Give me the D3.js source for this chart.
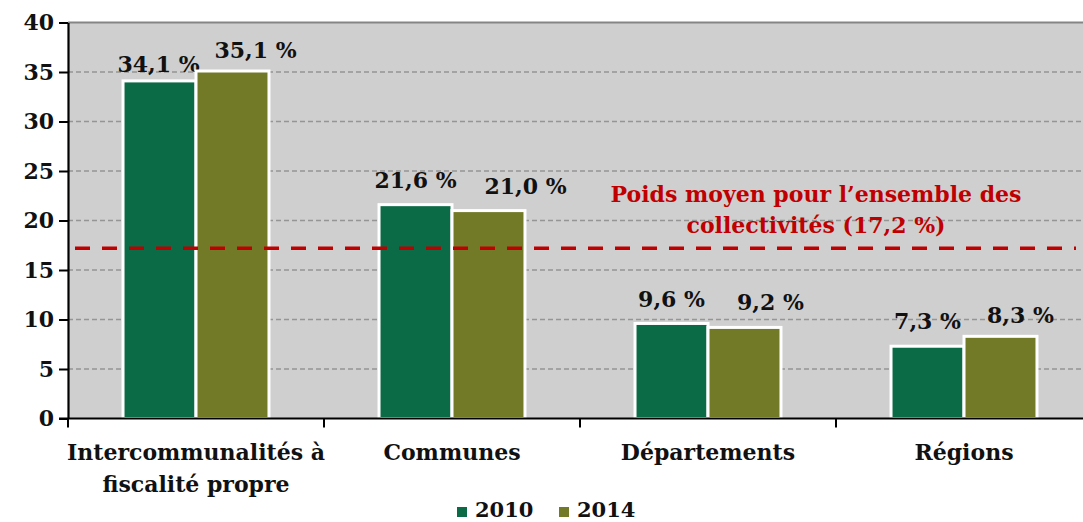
<!DOCTYPE html>
<html>
<head>
<meta charset="utf-8">
<script src="https://cdn.jsdelivr.net/npm/d3@7"></script>
<style>
  html, body { margin: 0; padding: 0; background: #fff; }
  svg { display: block; }
  text { font-family: "DejaVu Serif", "Liberation Serif", serif; font-weight: bold; }
</style>
</head>
<body>
<svg id="chart" width="1083" height="522"></svg>
<script>
// Poids des collectivités par catégorie (%)
const categories = [["Intercommunalités à", "fiscalité propre"], ["Communes"], ["Départements"], ["Régions"]];
const seriesNames = ["2010", "2014"];
const values2010 = [34.1, 21.6, 9.6, 7.3];
const values2014 = [35.1, 21.0, 9.2, 8.3];
const valueLabels2010 = ["34,1 %", "21,6 %", "9,6 %", "7,3 %"];
const valueLabels2014 = ["35,1 %", "21,0 %", "9,2 %", "8,3 %"];
const averageValue = 17.2;
const averageLabel = ["Poids moyen pour l’ensemble des", "collectivités (17,2 %)"];
const yTicks = [0, 5, 10, 15, 20, 25, 30, 35, 40];

// label nudges (px) so neighbouring value labels do not collide
const labelShift2010 = [[-1, 9], [0, 17], [0, 16], [0, 17]];
const labelShift2014 = [[23, 13], [37, 17], [26, 17], [20, 13]];

const colors = ["#0b6b47", "#737a27"];

const svg = d3.select("#chart");
const plotLeft = 68, plotRight = 1092, plotTop = 22.5, plotBottom = 418.5;

const x = d3.scaleBand().domain(d3.range(categories.length)).range([plotLeft, plotRight]).paddingInner(0).paddingOuter(0);
const xInner = d3.scaleBand().domain(seriesNames).range([0, x.bandwidth()]).paddingInner(0).paddingOuter(0.754);
const y = d3.scaleLinear().domain([0, 40]).range([plotBottom, plotTop]);

// plot background
svg.append("rect").attr("x", plotLeft).attr("y", plotTop).attr("width", 1083 - plotLeft).attr("height", plotBottom - plotTop).attr("fill", "#cfcfcf");

// gridlines
svg.append("g").selectAll("line").data(yTicks.filter(t => t > 0 && t < 40)).join("line")
  .attr("x1", plotLeft).attr("x2", 1083).attr("y1", d => y(d)).attr("y2", d => y(d))
  .attr("stroke", "#959595").attr("stroke-width", 1.6).attr("stroke-dasharray", "5,3");
svg.append("line").attr("x1", plotLeft).attr("x2", 1083).attr("y1", y(40)).attr("y2", y(40))
  .attr("stroke", "#858585").attr("stroke-width", 2.2);

// bars
const series = [values2010, values2014];
const labels = [valueLabels2010, valueLabels2014];
const shifts = [labelShift2010, labelShift2014];
seriesNames.forEach((name, si) => {
  const g = svg.append("g");
  g.selectAll("rect").data(series[si]).join("rect")
    .attr("x", (d, i) => x(i) + xInner(name))
    .attr("y", d => y(d))
    .attr("width", xInner.bandwidth())
    .attr("height", d => plotBottom - y(d))
    .attr("fill", colors[si]).attr("stroke", "#fff").attr("stroke-width", 3);
  g.selectAll("text").data(series[si]).join("text")
    .attr("x", (d, i) => x(i) + xInner(name) + xInner.bandwidth() / 2 + shifts[si][i][0])
    .attr("y", (d, i) => y(d) - shifts[si][i][1])
    .attr("text-anchor", "middle").attr("font-size", 22).attr("fill", "#111")
    .text((d, i) => labels[si][i]);
});

// average line
svg.append("line").attr("x1", 75).attr("x2", 1076).attr("y1", y(averageValue)).attr("y2", y(averageValue))
  .attr("stroke", "#c00000").attr("stroke-width", 3.5).attr("stroke-dasharray", "15,12");
svg.append("text").attr("x", 816).attr("y", 202).attr("text-anchor", "middle")
  .attr("font-size", 22).attr("fill", "#c00000")
  .selectAll("tspan").data(averageLabel).join("tspan")
  .attr("x", 816).attr("dy", (d, i) => i === 0 ? 0 : 31).text(d => d);

// y axis
const yAxis = svg.append("g").attr("transform", `translate(${plotLeft},0)`)
  .call(d3.axisLeft(y).tickValues(yTicks).tickSize(9).tickSizeOuter(0));
yAxis.select(".domain").attr("stroke", "#000").attr("stroke-width", 2.2);
yAxis.selectAll(".tick line").attr("stroke", "#000").attr("stroke-width", 2);
yAxis.selectAll(".tick text").attr("x", -14).attr("font-size", 22).attr("fill", "#111")
  .style("font-family", "DejaVu Serif").style("font-weight", "bold");

// x axis
svg.append("line").attr("x1", 59).attr("x2", 1083).attr("y1", plotBottom).attr("y2", plotBottom)
  .attr("stroke", "#000").attr("stroke-width", 2.2);
svg.append("g").selectAll("line").data(d3.range(categories.length + 1)).join("line")
  .attr("x1", i => plotLeft + i * x.step()).attr("x2", i => plotLeft + i * x.step())
  .attr("y1", plotBottom).attr("y2", plotBottom + 9).attr("stroke", "#000").attr("stroke-width", 2);
const catText = svg.append("g").selectAll("text").data(categories).join("text")
  .attr("text-anchor", "middle").attr("font-size", 22).attr("fill", "#111")
  .attr("y", 460);
catText.selectAll("tspan").data((d, i) => d.map(s => ({ s, i }))).join("tspan")
  .attr("x", d => x(d.i) + x.bandwidth() / 2)
  .attr("dy", (d, j) => j === 0 ? 0 : 32).text(d => d.s);

// legend
const legend = svg.append("g");
const legendX = [457, 559];
seriesNames.forEach((name, si) => {
  legend.append("rect").attr("x", legendX[si]).attr("y", 507).attr("width", 10).attr("height", 10).attr("fill", colors[si]);
  legend.append("text").attr("x", legendX[si] + 18).attr("y", 517).attr("font-size", 21).attr("fill", "#111").text(name);
});
</script>
</body>
</html>
